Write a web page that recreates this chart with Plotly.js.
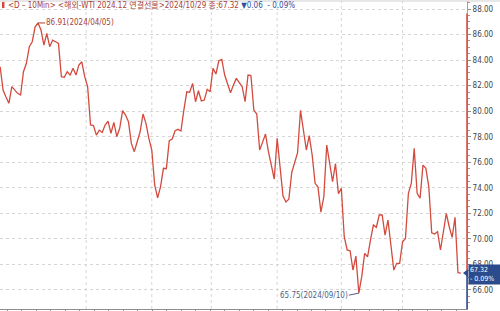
<!DOCTYPE html>
<html>
<head>
<meta charset="utf-8">
<script src="https://cdn.plot.ly/plotly-3.0.1.min.js"></script>
<style>html,body{margin:0;padding:0;background:#fff}#chart{width:500px;height:311px}</style>
</head>
<body>
<div id="chart"></div>
<script>
// WTI 2024.12 continuous futures, daily closes
const prices = [83.48, 81.66, 81.11, 80.62, 81.92, 81.66, 81.40, 81.27, 83.09, 83.75,
  85.05, 85.44, 86.61, 86.91, 86.36, 85.18, 86.10, 85.05, 85.57, 85.44,
  85.31, 82.70, 82.65, 83.09, 82.83, 83.36, 82.83, 83.61, 83.87, 82.70,
  81.92, 78.92, 78.88, 78.13, 78.52, 78.34, 78.92, 79.23, 78.27, 79.13,
  78.00, 78.66, 80.04, 79.70, 79.17, 77.48, 76.83, 77.61, 78.39, 79.78,
  79.05, 77.87, 76.96, 74.22, 73.22, 74.08, 75.53, 75.50, 77.69, 77.82,
  78.47, 78.58, 78.45, 80.09, 81.52, 81.48, 82.18, 80.74, 81.60, 80.80,
  80.87, 81.71, 81.52, 83.36, 82.91, 83.95, 84.06, 82.83, 82.13, 81.45,
  82.05, 82.57, 82.24, 81.92, 80.74, 82.83, 82.80, 80.09, 79.78, 76.96,
  77.58, 78.21, 76.83, 75.78, 74.69, 77.87, 75.78, 73.36, 72.89, 73.10,
  75.20, 76.02, 76.76, 80.07, 78.39, 76.96, 78.09, 76.57, 74.35, 74.06,
  72.10, 73.30, 77.35, 75.94, 74.48, 75.89, 73.54, 73.96, 70.17, 69.13,
  69.07, 67.56, 68.66, 65.75, 67.04, 68.87, 68.60, 69.91, 71.09, 70.91,
  71.87, 71.87, 70.30, 71.48, 69.65, 67.56, 68.09, 68.09, 69.78, 70.04,
  73.57, 74.35, 77.09, 73.57, 73.18, 75.78, 75.53, 74.08, 70.48, 70.38,
  70.56, 69.13, 70.56, 72.00, 70.95, 70.12, 71.69, 67.35, 67.32];
const barIndex = prices.map((_, i) => i);
const monthStartIdx = [29.5, 52, 72.4, 95, 117, 138];
const highLabel = "86.91(2024/04/05)";
const lowLabel = "65.75(2024/09/10)";
const headerMain = "&lt;D – 10Min&gt; &lt;해외-WTI 2024.12 연결선물&gt;2024/10/29 종:67.32";
const headerChange = "▼0.06  - 0.09%";
const lastLabel = "67.32<br>- 0.09%";

const FONT = "Liberation Sans Narrow, DejaVu Sans Condensed, Noto Sans CJK KR, sans-serif";
const LINE = "#d24b3e";
const BLUE = "#2b4b8c";
const hiIdx = prices.indexOf(Math.max(...prices));
const loIdx = prices.indexOf(Math.min(...prices));
const last = prices[prices.length - 1];
const yMin = 64.51, yMax = 88.63;

const shapes = monthStartIdx.map(m => ({
  type: "line", xref: "x", yref: "paper", x0: m, x1: m, y0: 0, y1: 1,
  line: {color: "#d6d6d6", width: 1, dash: "dot"}, layer: "below"
}));
shapes.push({type: "line", xref: "paper", yref: "paper", x0: 0, x1: 1.08, y0: 1, y1: 1,
  line: {color: "#cfcfcf", width: 1}});
shapes.push({type: "line", xref: "paper", yref: "y", x0: 1, x1: 1, y0: 87.65, y1: last,
  line: {color: LINE, width: 1.5}});
shapes.push({type: "line", xref: "paper", yref: "y", x0: 1, x1: 1, y0: last, y1: yMin,
  line: {color: BLUE, width: 1.5}});
shapes.push({type: "path", xref: "paper", yref: "y",
  path: `M 0.9915,${last} L 1.002,${last + 0.3} L 1.002,${last - 0.3} Z`,
  line: {width: 0}, fillcolor: BLUE});
shapes.push({type: "rect", xref: "paper", yref: "paper", x0: 0.0043, x1: 0.0096, y0: 0.977, y1: 0.997,
  line: {width: 0}, fillcolor: LINE});

const annotations = [
  {xref: "paper", yref: "paper", x: 0.0128, y: 0.9886, xanchor: "left", yanchor: "middle",
   showarrow: false, font: {family: FONT, size: 8, color: "#a8423a"},
   text: headerMain + ' <span style="color:#2f4f9c">' + headerChange + '</span>'},
  {x: hiIdx, y: prices[hiIdx], text: highLabel, showarrow: true, arrowhead: 0, arrowwidth: 1,
   arrowcolor: "#a8423a", ax: 7, ay: 0, xanchor: "left", yanchor: "middle",
   font: {family: FONT, size: 8, color: "#a8423a"}, borderpad: 0},
  {x: loIdx, y: prices[loIdx], text: lowLabel, showarrow: true, arrowhead: 0, arrowwidth: 1,
   arrowcolor: "#4f5f85", ax: -10, ay: 2, xanchor: "right", yanchor: "middle",
   font: {family: FONT, size: 8, color: "#4f5f85"}, borderpad: 0},
  {xref: "paper", yref: "y", x: 1.002, y: last, yshift: -1, text: lastLabel, showarrow: false,
   xanchor: "left", yanchor: "middle", align: "left", bgcolor: BLUE,
   font: {family: FONT, size: 7, color: "#ffffff"}, borderpad: 1, width: 31}
];

Plotly.newPlot("chart", [{
  x: barIndex, y: prices, type: "scatter", mode: "lines",
  line: {color: LINE, width: 1.3}, hoverinfo: "skip"
}], {
  width: 500, height: 311,
  margin: {l: 0, r: 33, t: 1, b: 2, pad: 0},
  paper_bgcolor: "#fff", plot_bgcolor: "#fff",
  showlegend: false,
  font: {family: FONT, size: 8, color: "#444"},
  xaxis: {range: [-0.05, 160.1], showgrid: false, zeroline: false, showline: true,
    linecolor: "#8c8c8c", linewidth: 1, ticks: "outside", ticklen: 4, tickcolor: "#8c8c8c",
    tick0: 2.4, dtick: 4.97, showticklabels: false, fixedrange: true},
  yaxis: {side: "right", range: [yMin, yMax], tick0: 0, dtick: 2, tickformat: ".2f",
    showgrid: true, gridcolor: "#d6d6d6", griddash: "dot", zeroline: false,
    showline: true, linecolor: "#a0a0a0", linewidth: 1, ticks: "outside", ticklen: 3,
    tickcolor: "#8c8c8c", tickfont: {family: FONT, size: 8, color: "#444"},
    minor: {ticks: "outside", ticklen: 2, dtick: 0.5, tickcolor: "#c9847c", showgrid: false},
    fixedrange: true},
  shapes: shapes,
  annotations: annotations
}, {staticPlot: true});
</script>
</body>
</html>
